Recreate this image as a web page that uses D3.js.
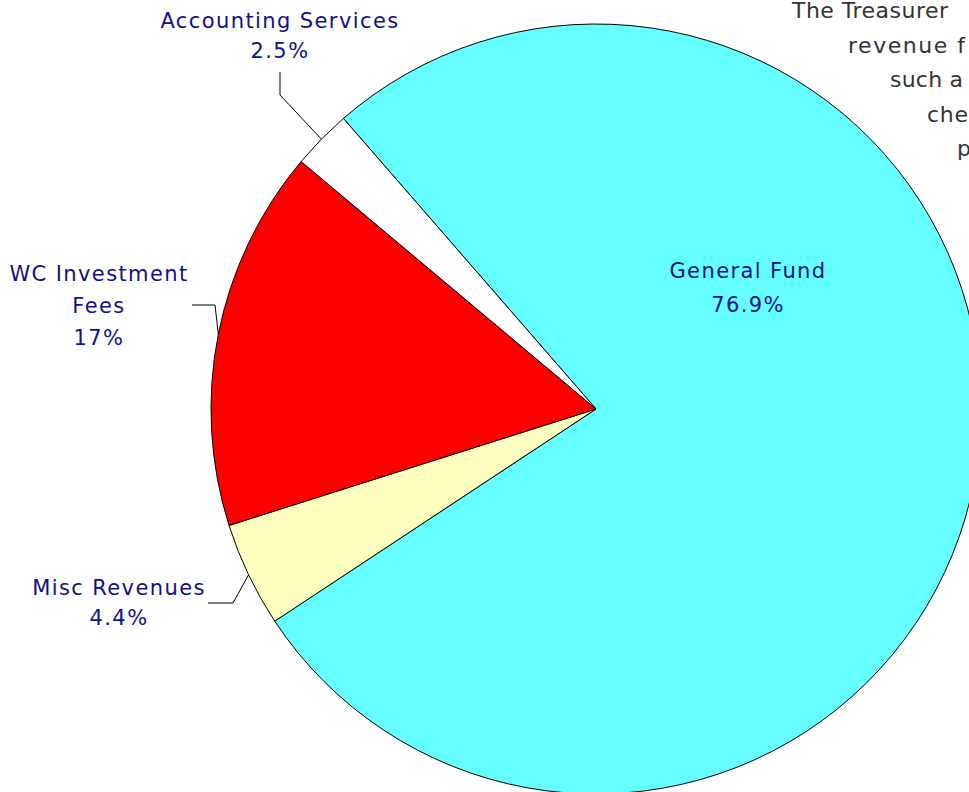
<!DOCTYPE html>
<html>
<head>
<meta charset="utf-8">
<script src="https://cdn.jsdelivr.net/npm/d3@7"></script>
<style>
  html, body { margin: 0; padding: 0; background: #fff; overflow: hidden; }
  svg { display: block; }
</style>
</head>
<body>
<div id="chart"></div>
<script>
"use strict";

// data: slice shares as drawn, and the labels printed on the chart
const categories = ["General Fund", "Misc Revenues", "WC Investment Fees", "Accounting Services"];
const values = [77.1, 4.4, 16.0, 2.5];
const valueLabels = ["76.9%", "4.4%", "17%", "2.5%"];
const colors = ["#66ffff", "#ffffc0", "#ff0000", "#ffffff"];

// how each category name wraps
const nameLines = [
    ["General Fund"],
    ["Misc Revenues"],
    ["WC Investment", "Fees"],
    ["Accounting Services"]
];

// the note in the top right corner, cut off by the page edge
const noteLines = ["The Treasurer", "revenue f", "such a", "che", "p"];

const svgWidth = 969,
    svgHeight = 792;

const cx = 596, cy = 409, radius = 385;
const labelFont = "'DejaVu Sans', sans-serif";

const svg = d3.select("#chart").append("svg")
    .attr("width", svgWidth)
    .attr("height", svgHeight);

const g = svg.append("g")
    .attr("transform", "translate(" + cx + "," + cy + ")");

const startDeg = -41;
const pie = d3.pie()
    .sort(null)
    .value(d => d)
    .startAngle(startDeg * Math.PI / 180)
    .endAngle(startDeg * Math.PI / 180 + 2 * Math.PI);

const arc = d3.arc().innerRadius(0).outerRadius(radius);

const arcs = pie(values);

// slices
g.selectAll("path.slice")
    .data(arcs)
    .enter()
    .append("path")
    .attr("class", "slice")
    .attr("d", arc)
    .attr("fill", (d, i) => colors[i])
    .attr("stroke", "#000")
    .attr("stroke-width", 1);

// label placement, relative to the pie centre
// inside: label at an offset; outside: leader from slice edge via elbow to label
const labelLayout = [
    { inside: true, x: 152, y: -131, lh: 34 },
    { x: -477, y: 186, lh: 30, elbow: [-363, 194], end: [-388, 194] },
    { x: -497, y: -128, lh: 32, elbow: [-381, -104], end: [-404, -104] },
    { x: -316, y: -381, lh: 30, elbow: [-316, -314], end: [-316, -337] }
];

const labels = g.selectAll("g.label")
    .data(arcs)
    .enter()
    .append("g")
    .attr("class", "label");

labels.each(function (d, i) {
    const lay = labelLayout[i];
    const sel = d3.select(this);
    const lines = nameLines[i].concat([valueLabels[i]]);
    const t = sel.append("text")
        .attr("text-anchor", "middle")
        .attr("font-family", labelFont)
        .attr("font-size", 21)
        .attr("letter-spacing", 1.4)
        .attr("fill", "#10108a");
    lines.forEach((s, k) => {
        t.append("tspan")
            .attr("x", lay.x)
            .attr("y", lay.y + k * lay.lh)
            .text(s);
    });
    if (!lay.inside) {
        const mid = (d.startAngle + d.endAngle) / 2;
        const p0 = [radius * Math.sin(mid), -radius * Math.cos(mid)];
        sel.append("polyline")
            .attr("points", [p0, lay.elbow, lay.end].map(p => p.join(",")).join(" "))
            .attr("fill", "none")
            .attr("stroke", "#000")
            .attr("stroke-width", 1);
    }
});

// corner note
const note = svg.append("text")
    .attr("font-family", labelFont)
    .attr("font-size", 22)
    .attr("fill", "#333");
const noteX = [792, 848, 890, 927, 957];
const noteW = [156, 117, 73, 41, 11];
noteLines.forEach((s, k) => {
    note.append("tspan")
        .attr("x", noteX[k])
        .attr("y", 18 + k * 34.5)
        .attr("textLength", noteW[k])
        .attr("lengthAdjust", "spacing")
        .text(s);
});
</script>
</body>
</html>
